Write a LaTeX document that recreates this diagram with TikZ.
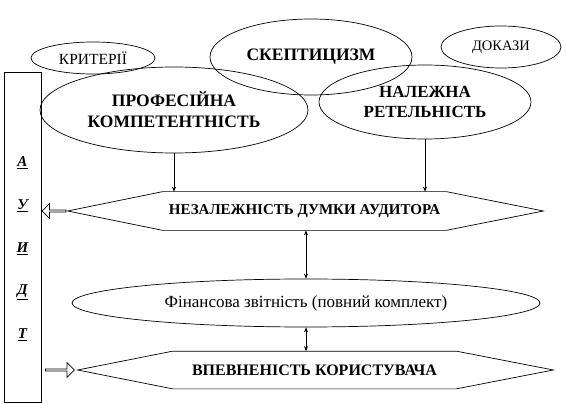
\documentclass[tikz,border=0pt]{standalone}
\usepackage{fontspec}
\setmainfont{Liberation Serif}
\usetikzlibrary{positioning,calc,arrows.meta,shapes.geometric,shapes.arrows}

\begin{document}
\begin{tikzpicture}[x=1pt, y=-1pt, line width=0.7pt, >={Stealth[length=5pt, width=4pt]},
  oval/.style = {ellipse, draw, inner sep=0pt},
  plate/.style = {rectangle, minimum width=283pt, inner sep=0pt},
  hollow/.style = {single arrow, draw, minimum height=24pt, minimum width=15pt, single arrow head extend=2.5pt, inner sep=0pt},
  letter/.style = {font=\bfseries\itshape\fontsize{15}{17}\selectfont}]

\useasboundingbox (0,0) rectangle (566,404);

% top ovals
\node[oval, minimum width=124pt, minimum height=32pt, font=\fontsize{15.5}{17}\selectfont] (krit) at (93,58) {КРИТЕРІЇ};
\node[oval, minimum width=202pt, minimum height=76pt, font=\bfseries\fontsize{17.5}{19}\selectfont] (skep) at (311,57) {СКЕПТИЦИЗМ};
\node[oval, minimum width=120pt, minimum height=42pt, font=\fontsize{14.5}{16}\selectfont] (dokaz) at (501,47) {ДОКАЗИ};
\node[oval, minimum width=268pt, minimum height=86pt, align=center, font=\bfseries\fontsize{17.5}{21}\selectfont] (prof) at (174,110) {ПРОФЕСІЙНА\\КОМПЕТЕНТНІСТЬ};
\node[oval, minimum width=212pt, minimum height=74pt, align=center, font=\bfseries\fontsize{17}{20}\selectfont] (nal) at (425,102) {НАЛЕЖНА\\РЕТЕЛЬНІСТЬ};

% plates and report
\node[plate, minimum height=38pt, font=\bfseries\fontsize{15}{17}\selectfont] (indep) at (304.5,211) {НЕЗАЛЕЖНІСТЬ ДУМКИ АУДИТОРА};
\node[oval, minimum width=468pt, minimum height=48pt, font=\fontsize{17}{19}\selectfont] (fin) at (306,303) {Фінансова звітність (повний комплект)};
\node[plate, minimum height=37pt, font=\bfseries\fontsize{16}{18}\selectfont] (trust) at (314.5,370) {ВПЕВНЕНІСТЬ КОРИСТУВАЧА};

\foreach \p in {indep,trust}{
  \coordinate (\p Tip) at ($(\p.west)+(-95,0)$);
  \draw (\p.north west) -- (\p Tip) -- (\p.south west) -- (\p.south east)
    -- ($(\p.east)+(97,0)$) -- (\p.north east) -- cycle;
}

% audit column
\node[draw, minimum width=37pt, minimum height=330pt, inner sep=0pt] (audit) at (22.5,237) {};
\foreach \ch [count=\i] in {А,У,И,Д,Т}
  \node[letter] (l\i) at (22.5,{163+(\i-1)*43}) {\underline{\ch}};

\node[hollow, shape border rotate=180] (toaudit) at ($(audit.east |- indepTip)!0.5!(indepTip)$) {};
\node[hollow, minimum height=29pt] (fromaudit) at ($(audit.east |- trustTip)!0.5!(trustTip)$) {};

% connectors
\draw[->] (prof.south) -- (prof.south |- indep.north);
\draw[->] (nal.south) -- (nal.south |- indep.north);
\draw[<->] (indep.south -| fin.north) -- (fin.north);
\draw[<->] (fin.south) -- (fin.south |- trust.north);

\end{tikzpicture}
\end{document}
